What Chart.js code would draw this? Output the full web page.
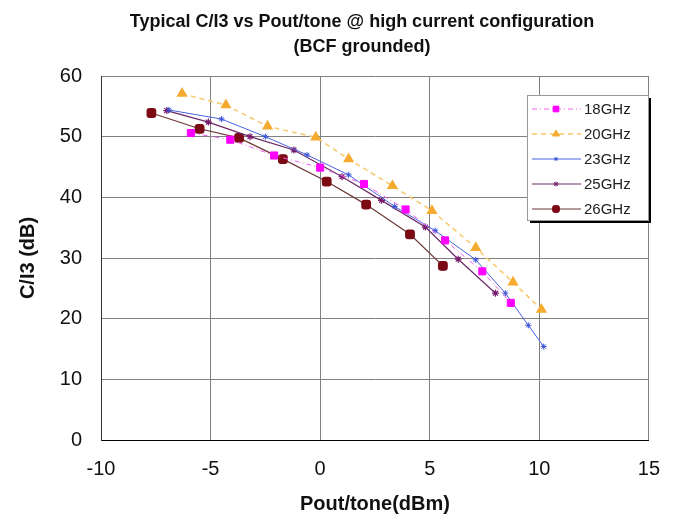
<!DOCTYPE html>
<html>
<head>
<meta charset="utf-8">
<script src="https://cdn.jsdelivr.net/npm/chart.js@4.4.0/dist/chart.umd.min.js"></script>
<style>
  html, body { margin: 0; padding: 0; background: #fff; }
  #wrap { position: relative; width: 677px; height: 520px; }
</style>
</head>
<body>
<div id="wrap"><canvas id="myChart_cim"></canvas></div>
<script>
// values: Pout/tone (dBm) vs C/I3 (dB)
const seriesNames = ['18GHz', '20GHz', '23GHz', '25GHz', '26GHz'];

const pout18 = [-5.9, -4.1, -2.1, 0.0, 2.0, 3.9, 5.7, 7.4, 8.7];
const ci18 = [50.6, 49.5, 46.9, 44.9, 42.2, 38.0, 32.9, 27.8, 22.6];

const pout20 = [-6.3, -4.3, -2.4, -0.2, 1.3, 3.3, 5.1, 7.1, 8.8, 10.1];
const ci20 = [57.1, 55.2, 51.7, 49.9, 46.3, 41.9, 37.8, 31.7, 26.0, 21.5];

const pout23 = [-6.9, -4.5, -2.5, -0.6, 1.3, 3.4, 5.25, 7.1, 8.45, 9.5, 10.2];
const ci23 = [54.4, 52.9, 50.0, 47.0, 43.7, 38.5, 34.5, 29.7, 24.2, 18.9, 15.4];

const pout25 = [-7.0, -5.1, -3.2, -1.2, 1.0, 2.8, 4.8, 6.3, 8.0];
const ci25 = [54.3, 52.4, 50.0, 47.8, 43.4, 39.5, 35.1, 29.8, 24.2];

const pout26 = [-7.7, -5.5, -3.7, -1.7, 0.3, 2.1, 4.1, 5.6];
const ci26 = [53.9, 51.3, 49.8, 46.3, 42.6, 38.8, 33.9, 28.7];

const xTicks = [-10, -5, 0, 5, 10, 15];
const yTicks = [0, 10, 20, 30, 40, 50, 60];

const titleLines = ['Typical C/I3 vs Pout/tone @ high current configuration', '(BCF grounded)'];

const toPoints = (xs, ys) => xs.map((x, i) => ({ x: x, y: ys[i] }));

const FONT = '"Liberation Sans", Arial, sans-serif';

const titlePlugin = {
  id: 'twoLineTitle',
  afterDraw(chart) {
    const ctx = chart.ctx;
    ctx.save();
    ctx.fillStyle = '#111';
    ctx.font = 'bold 18px ' + FONT;
    ctx.textAlign = 'center';
    ctx.textBaseline = 'middle';
    ctx.fillText(titleLines[0], 362, 22);
    ctx.fillText(titleLines[1], 362, 47);
    ctx.restore();
  }
};

// legend box sits inside the plot, top right, with a black drop shadow
const boxLegend = {
  id: 'boxLegend',
  afterDraw(chart) {
    const ctx = chart.ctx;
    const bx = 527, by = 95, bw = 121, bh = 125;
    ctx.save();
    ctx.fillStyle = '#000';
    ctx.fillRect(bx + 3, by + 3, bw, bh);
    ctx.fillStyle = '#fff';
    ctx.fillRect(bx, by, bw, bh);
    ctx.strokeStyle = '#999';
    ctx.lineWidth = 1;
    ctx.strokeRect(bx + 0.5, by + 0.5, bw, bh);

    chart.data.datasets.forEach((ds, i) => {
      const y = 109 + i * 25;
      ctx.save();
      ctx.strokeStyle = ds.borderColor;
      ctx.lineWidth = ds.borderWidth;
      ctx.setLineDash(ds.borderDash || []);
      ctx.beginPath();
      ctx.moveTo(532, y);
      ctx.lineTo(581, y);
      ctx.stroke();
      ctx.restore();

      ctx.fillStyle = ds.pointBackgroundColor;
      ctx.strokeStyle = ds.pointBorderColor;
      Chart.helpers.drawPoint(ctx, {
        pointStyle: ds.pointStyle,
        radius: ds.pointRadius - 1,
        rotation: 0,
        borderWidth: 1
      }, 556, y);

      ctx.fillStyle = '#222';
      ctx.font = '15px ' + FONT;
      ctx.textAlign = 'left';
      ctx.textBaseline = 'middle';
      ctx.fillText(ds.label, 584, y + 1);
    });
    ctx.restore();
  }
};

const myChart_cim = document.getElementById('myChart_cim');

new Chart(myChart_cim, {
  type: 'scatter',
  data: {
    datasets: [{
      label: seriesNames[0],
      data: toPoints(pout18, ci18),
      showLine: true,
      borderColor: '#f060f0',
      borderWidth: 1,
      borderDash: [5, 3, 1, 3],
      pointStyle: 'rect',
      pointRadius: 5,
      pointBackgroundColor: '#ff00ff',
      pointBorderColor: '#ff00ff'
    }, {
      label: seriesNames[1],
      data: toPoints(pout20, ci20),
      showLine: true,
      borderColor: '#f7c86a',
      borderWidth: 1.5,
      borderDash: [5, 4],
      pointStyle: 'triangle',
      pointRadius: 5,
      pointBackgroundColor: '#f5aa30',
      pointBorderColor: '#f5aa30'
    }, {
      label: seriesNames[2],
      data: toPoints(pout23, ci23),
      showLine: true,
      borderColor: '#4a62e0',
      borderWidth: 1,
      pointStyle: 'star',
      pointRadius: 3,
      pointBackgroundColor: '#3a55d8',
      pointBorderColor: '#3a55d8'
    }, {
      label: seriesNames[3],
      data: toPoints(pout25, ci25),
      showLine: true,
      borderColor: '#6a2a66',
      borderWidth: 1.2,
      pointStyle: 'star',
      pointRadius: 3.5,
      pointBackgroundColor: '#7a1c6e',
      pointBorderColor: '#7a1c6e'
    }, {
      label: seriesNames[4],
      data: toPoints(pout26, ci26),
      showLine: true,
      borderColor: '#6e3838',
      borderWidth: 1.2,
      pointStyle: 'rectRounded',
      pointRadius: 5,
      pointBackgroundColor: '#7b0a14',
      pointBorderColor: '#7b0a14'
    }]
  },
  options: {
    responsive: true,
    maintainAspectRatio: false,
    animation: false,
    layout: {
      padding: { top: 76, right: 25, bottom: 0, left: 0 }
    },
    plugins: {
      legend: { display: false },
      title: { display: false },
      tooltip: { enabled: false }
    },
    scales: {
      x: {
        type: 'linear',
        min: xTicks[0],
        max: xTicks[xTicks.length - 1],
        afterBuildTicks: (scale) => { scale.ticks = xTicks.map(v => ({ value: v })); },
        afterFit: (scale) => { scale.height = 80; },
        grid: { color: '#808080', drawTicks: false },
        border: { color: '#000', width: 1 },
        ticks: {
          color: '#111',
          padding: 17,
          font: { family: FONT, size: 20 }
        },
        title: {
          display: true,
          text: 'Pout/tone(dBm)',
          color: '#111',
          padding: { top: 4, bottom: 4 },
          font: { family: FONT, size: 20, weight: 'bold' }
        }
      },
      y: {
        type: 'linear',
        min: yTicks[0],
        max: yTicks[yTicks.length - 1],
        afterBuildTicks: (scale) => { scale.ticks = yTicks.map(v => ({ value: v })); },
        afterFit: (scale) => { scale.width = 101; },
        grid: { color: '#808080', drawTicks: false },
        border: { color: '#333', width: 1 },
        ticks: {
          color: '#111',
          padding: 19,
          font: { family: FONT, size: 20 }
        },
        title: {
          display: true,
          text: 'C/I3 (dB)',
          color: '#111',
          padding: { top: 16, bottom: 4 },
          font: { family: FONT, size: 20, weight: 'bold' }
        }
      }
    }
  },
  plugins: [titlePlugin, boxLegend]
});
</script>
</body>
</html>
